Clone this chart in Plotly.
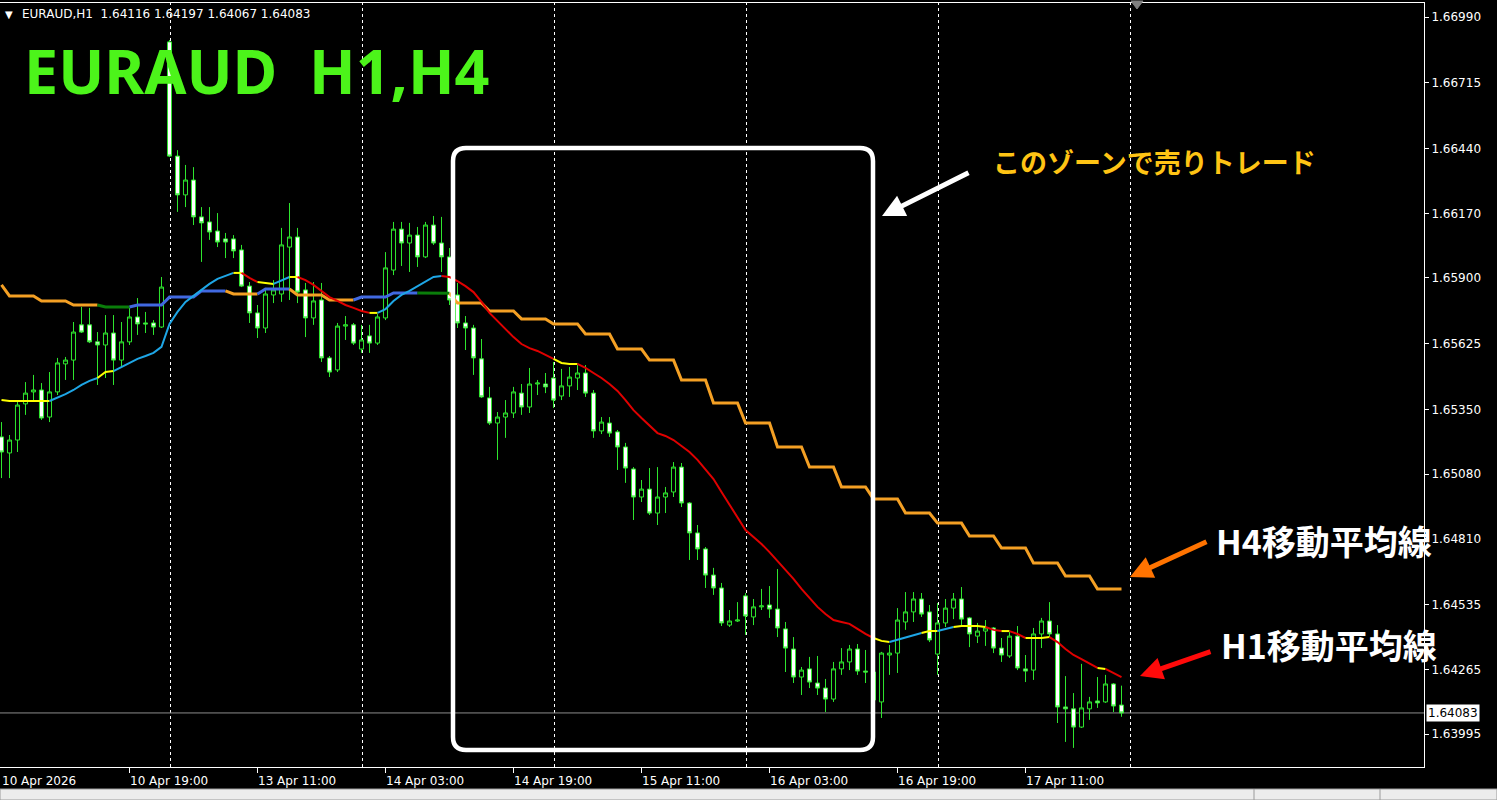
import pandas as pd
import plotly.graph_objects as go

# ---------------- data ----------------
header_text = "EURAUD,H1  1.64116 1.64197 1.64067 1.64083"
title_text = "EURAUD\u00a0\u00a0H1,H4"
zone_text = "このゾーンで売りトレード"
h4_text = "H4移動平均線"
h1_text = "H1移動平均線"

first_bar = "2026-04-10 03:00"
last_bar = "2026-04-17 23:00"

opens = [1.65236, 1.65169, 1.65223, 1.65374, 1.65424, 1.65432, 1.65319, 1.65424, 1.65541, 1.65557,
         1.65704, 1.65704, 1.65633, 1.65620, 1.65670, 1.65557, 1.65633, 1.65737, 1.65712, 1.65712,
         1.65695, 1.66886, 1.66409, 1.66247, 1.66309, 1.66155, 1.66134, 1.66096, 1.66063, 1.66063,
         1.66017, 1.65866, 1.65754, 1.65691, 1.65829, 1.65833, 1.66029, 1.66071, 1.65850, 1.65733,
         1.65808, 1.65566, 1.65516, 1.65699, 1.65704, 1.65603, 1.65658, 1.65628, 1.65733, 1.65933,
         1.66104, 1.66046, 1.66079, 1.65988, 1.66121, 1.66046, 1.65988, 1.65829, 1.65712, 1.65691,
         1.65562, 1.65399, 1.65294, 1.65319, 1.65336, 1.65419, 1.65361, 1.65457, 1.65457, 1.65482,
         1.65407, 1.65449, 1.65482, 1.65503, 1.65419, 1.65261, 1.65294, 1.65257, 1.65194, 1.65102,
         1.64985, 1.65018, 1.64918, 1.64985, 1.65006, 1.65110, 1.64960, 1.64835, 1.64768, 1.64659,
         1.64605, 1.64450, 1.64467, 1.64572, 1.64484, 1.64526, 1.64534, 1.64517, 1.64434, 1.64350,
         1.64233, 1.64267, 1.64208, 1.64187, 1.64141, 1.64267, 1.64296, 1.64350, 1.64258, 1.64254,
         1.64129, 1.64325, 1.64333, 1.64463, 1.64505, 1.64559, 1.64505, 1.64329, 1.64459, 1.64521,
         1.64559, 1.64480, 1.64404, 1.64425, 1.64438, 1.64354, 1.64321, 1.64404, 1.64267, 1.64262,
         1.64413, 1.64467, 1.64413, 1.64108, 1.64100, 1.64024, 1.64100, 1.64133, 1.64129, 1.64204,
         1.64116]
highs = [1.65298, 1.65244, 1.65382, 1.65465, 1.65495, 1.65461, 1.65507, 1.65566, 1.65570, 1.65716,
         1.65779, 1.65775, 1.65674, 1.65745, 1.65745, 1.65716, 1.65775, 1.65816, 1.65758, 1.65724,
         1.65904, 1.66894, 1.66434, 1.66372, 1.66363, 1.66196, 1.66196, 1.66171, 1.66088, 1.66079,
         1.66038, 1.65883, 1.65787, 1.65850, 1.65891, 1.66109, 1.66213, 1.66109, 1.65879, 1.65883,
         1.65879, 1.65574, 1.65712, 1.65741, 1.65712, 1.65704, 1.65704, 1.65749, 1.66008, 1.66134,
         1.66134, 1.66130, 1.66113, 1.66134, 1.66159, 1.66155, 1.66025, 1.65879, 1.65741, 1.65704,
         1.65645, 1.65445, 1.65340, 1.65390, 1.65445, 1.65457, 1.65524, 1.65474, 1.65503, 1.65549,
         1.65520, 1.65528, 1.65536, 1.65536, 1.65432, 1.65319, 1.65319, 1.65265, 1.65211, 1.65110,
         1.65056, 1.65106, 1.65110, 1.65027, 1.65131, 1.65127, 1.64964, 1.64868, 1.64776, 1.64689,
         1.64626, 1.64513, 1.64546, 1.64584, 1.64559, 1.64601, 1.64613, 1.64684, 1.64463, 1.64400,
         1.64275, 1.64317, 1.64321, 1.64225, 1.64296, 1.64354, 1.64367, 1.64371, 1.64346, 1.64271,
         1.64338, 1.64367, 1.64521, 1.64588, 1.64588, 1.64584, 1.64534, 1.64542, 1.64559, 1.64584,
         1.64609, 1.64484, 1.64459, 1.64471, 1.64442, 1.64396, 1.64421, 1.64446, 1.64325, 1.64438,
         1.64480, 1.64546, 1.64450, 1.64237, 1.64166, 1.64288, 1.64150, 1.64233, 1.64242, 1.64208,
         1.64197]
lows = [1.65064, 1.65064, 1.65173, 1.65328, 1.65390, 1.65307, 1.65298, 1.65411, 1.65474, 1.65474,
        1.65670, 1.65628, 1.65453, 1.65482, 1.65453, 1.65528, 1.65620, 1.65662, 1.65670, 1.65662,
        1.65691, 1.66405, 1.66176, 1.66196, 1.66121, 1.65967, 1.66059, 1.66029, 1.65983, 1.65983,
        1.65862, 1.65712, 1.65649, 1.65670, 1.65795, 1.65800, 1.65808, 1.65795, 1.65653, 1.65704,
        1.65549, 1.65486, 1.65507, 1.65641, 1.65620, 1.65587, 1.65587, 1.65620, 1.65724, 1.65912,
        1.65950, 1.65925, 1.65946, 1.65983, 1.66038, 1.65925, 1.65787, 1.65691, 1.65599, 1.65495,
        1.65399, 1.65286, 1.65140, 1.65232, 1.65315, 1.65328, 1.65336, 1.65411, 1.65419, 1.65357,
        1.65390, 1.65403, 1.65432, 1.65403, 1.65232, 1.65248, 1.65236, 1.65098, 1.65044, 1.64889,
        1.64964, 1.64910, 1.64868, 1.64918, 1.64985, 1.64943, 1.64722, 1.64722, 1.64605, 1.64576,
        1.64446, 1.64442, 1.64463, 1.64409, 1.64450, 1.64513, 1.64480, 1.64400, 1.64254, 1.64208,
        1.64158, 1.64187, 1.64158, 1.64087, 1.64129, 1.64242, 1.64262, 1.64242, 1.64208, 1.64087,
        1.64062, 1.64242, 1.64250, 1.64430, 1.64463, 1.64484, 1.64379, 1.64242, 1.64442, 1.64475,
        1.64442, 1.64358, 1.64375, 1.64363, 1.64333, 1.64296, 1.64313, 1.64262, 1.64212, 1.64221,
        1.64354, 1.64400, 1.64041, 1.63962, 1.63937, 1.64020, 1.64054, 1.64104, 1.64125, 1.64087,
        1.64067]
closes = [1.65173, 1.65223, 1.65369, 1.65419, 1.65432, 1.65315, 1.65424, 1.65545, 1.65557, 1.65674,
          1.65674, 1.65633, 1.65620, 1.65670, 1.65557, 1.65633, 1.65737, 1.65708, 1.65708, 1.65695,
          1.65862, 1.66409, 1.66247, 1.66309, 1.66155, 1.66130, 1.66092, 1.66050, 1.66050, 1.66013,
          1.65866, 1.65754, 1.65691, 1.65833, 1.65850, 1.66038, 1.66071, 1.65841, 1.65733, 1.65804,
          1.65566, 1.65507, 1.65699, 1.65704, 1.65628, 1.65641, 1.65628, 1.65737, 1.65942, 1.66104,
          1.66046, 1.66079, 1.65988, 1.66121, 1.66046, 1.65988, 1.65808, 1.65712, 1.65691, 1.65566,
          1.65403, 1.65294, 1.65319, 1.65336, 1.65424, 1.65361, 1.65457, 1.65461, 1.65445, 1.65390,
          1.65449, 1.65486, 1.65503, 1.65419, 1.65261, 1.65298, 1.65252, 1.65194, 1.65106, 1.64985,
          1.65018, 1.64918, 1.64985, 1.65002, 1.65110, 1.64960, 1.64835, 1.64768, 1.64659, 1.64605,
          1.64459, 1.64467, 1.64471, 1.64488, 1.64526, 1.64530, 1.64517, 1.64438, 1.64354, 1.64233,
          1.64262, 1.64212, 1.64187, 1.64141, 1.64267, 1.64296, 1.64350, 1.64258, 1.64254, 1.64137,
          1.64333, 1.64333, 1.64471, 1.64505, 1.64559, 1.64496, 1.64388, 1.64459, 1.64521, 1.64559,
          1.64475, 1.64413, 1.64425, 1.64438, 1.64354, 1.64325, 1.64404, 1.64271, 1.64258, 1.64413,
          1.64467, 1.64413, 1.64108, 1.64100, 1.64024, 1.64104, 1.64129, 1.64125, 1.64204, 1.64112,
          1.64083]

# H1 moving average, one value per H1 bar
ma_h1 = [1.65390, 1.65386, 1.65386, 1.65386, 1.65386, 1.65386, 1.65386, 1.65399, 1.65415, 1.65432,
         1.65453, 1.65470, 1.65482, 1.65507, 1.65511, 1.65528, 1.65545, 1.65562, 1.65574, 1.65587,
         1.65612, 1.65708, 1.65758, 1.65800, 1.65825, 1.65850, 1.65875, 1.65896, 1.65908, 1.65921,
         1.65921, 1.65900, 1.65883, 1.65879, 1.65875, 1.65891, 1.65904, 1.65904, 1.65891, 1.65871,
         1.65846, 1.65820, 1.65804, 1.65787, 1.65775, 1.65762, 1.65754, 1.65754, 1.65770, 1.65804,
         1.65829, 1.65846, 1.65866, 1.65887, 1.65904, 1.65908, 1.65904, 1.65887, 1.65866, 1.65841,
         1.65800, 1.65754, 1.65720, 1.65683, 1.65653, 1.65624, 1.65607, 1.65595, 1.65578, 1.65562,
         1.65545, 1.65541, 1.65541, 1.65524, 1.65503, 1.65482, 1.65457, 1.65428, 1.65390, 1.65348,
         1.65315, 1.65282, 1.65252, 1.65240, 1.65223, 1.65198, 1.65173, 1.65140, 1.65102, 1.65060,
         1.65006, 1.64952, 1.64902, 1.64847, 1.64818, 1.64789, 1.64755, 1.64718, 1.64680, 1.64643,
         1.64601, 1.64563, 1.64526, 1.64496, 1.64471, 1.64463, 1.64455, 1.64434, 1.64413, 1.64396,
         1.64384, 1.64379, 1.64388, 1.64400, 1.64409, 1.64417, 1.64425, 1.64425, 1.64434, 1.64442,
         1.64446, 1.64446, 1.64446, 1.64442, 1.64430, 1.64425, 1.64425, 1.64413, 1.64396, 1.64396,
         1.64396, 1.64400, 1.64379, 1.64350, 1.64325, 1.64308, 1.64288, 1.64271, 1.64267, 1.64250,
         1.64233]
# colour state of the H1 MA (r = falling, c = rising, y = flat) as runs of bars
ma_h1_runs = [("r", 1), ("y", 6), ("c", 6), ("y", 2), ("c", 15), ("y", 1), ("r", 2), ("y", 2),
              ("c", 2), ("y", 1), ("r", 9), ("y", 1), ("c", 8), ("r", 14), ("y", 3), ("r", 37),
              ("y", 2), ("c", 4), ("y", 2), ("c", 2), ("y", 4), ("r", 2), ("y", 1), ("r", 2),
              ("y", 3), ("r", 6), ("y", 1), ("r", 2)]

# H4 moving average, one value per H4 bar
ma_h4 = [1.65871, 1.65825, 1.65804, 1.65787, 1.65779, 1.65787, 1.65820, 1.65846, 1.65833, 1.65854,
         1.65829, 1.65808, 1.65820, 1.65837, 1.65836, 1.65795, 1.65762, 1.65729, 1.65708, 1.65666,
         1.65603, 1.65557, 1.65474, 1.65378, 1.65294, 1.65194, 1.65110, 1.65027, 1.64977, 1.64918,
         1.64876, 1.64822, 1.64772, 1.64709, 1.64655, 1.64601]
ma_h4_state = ["d", "d", "d", "d", "f", "u", "u", "u", "d", "u", "d", "d", "u", "u", "f"] + ["d"] * 21

price_ticks = [1.66990, 1.66715, 1.66440, 1.66170, 1.65900, 1.65625, 1.65350, 1.65080,
               1.64810, 1.64535, 1.64265, 1.63995]
time_labels = ["10 Apr 2026", "10 Apr 19:00", "13 Apr 11:00", "14 Apr 03:00", "14 Apr 19:00",
               "15 Apr 11:00", "16 Apr 03:00", "16 Apr 19:00", "17 Apr 11:00"]
last_price = 1.64083

# ---------------- styling ----------------
W, H = 1497, 800
ML, MR, MT, MB = 0, 73, 3, 33
PW, PH = W - ML - MR, H - MT - MB
Y_RANGE = [1.638572, 1.670485]
X_RANGE = [-0.1875, 177.8125]

CANDLE_GREEN = "#2EE62E"
H1_COLORS = {"r": "#E00000", "c": "#1EA6E6", "y": "#FFFF00"}
H4_COLORS = {"d": "#F4A024", "u": "#4169E1", "f": "#0A7D0A"}
AXIS_FONT = dict(family="DejaVu Sans", size=12, color="#FFFFFF")


def px_x(px):
    return (px - ML) / PW


def px_y(py):
    return 1 - (py - MT) / PH


# ---------------- derived series ----------------
times = pd.date_range(first_bar, last_bar, freq="h")
times = times[times.dayofweek < 5]
bars = list(range(len(times)))

blocks = list(times.floor("4h"))
uniq_blocks = list(dict.fromkeys(blocks))
block_idx = [uniq_blocks.index(b) for b in blocks]
h4_line = [ma_h4[k] for k in block_idx]
h4_states = [ma_h4_state[k] for k in block_idx]

h1_states = []
for st, n in ma_h1_runs:
    h1_states += [st] * n


def label_bar(lbl):
    for i, t in enumerate(times):
        if t.strftime("%d %b %H:%M") == lbl:
            return i
        if i == 0 and t.strftime("%d %b %Y") == lbl:
            return i
    return None


label_bars = [label_bar(s) for s in time_labels]
separators = [i for i, t in enumerate(times) if t.hour == 0] + [len(times)]


def colored_line(xs, ys, states, colors, width):
    traces = []
    start = 0
    n = len(xs)
    for i in range(1, n + 1):
        if i == n or states[i] != states[start]:
            a = max(start - 1, 0)
            traces.append(go.Scatter(
                x=xs[a:i], y=ys[a:i], mode="lines",
                line=dict(color=colors[states[start]], width=width),
                hoverinfo="skip", showlegend=False))
            start = i
    return traces


fig = go.Figure()
for tr in colored_line(bars, h4_line, h4_states, H4_COLORS, 3):
    fig.add_trace(tr)
for tr in colored_line(bars, ma_h1, h1_states, H1_COLORS, 2):
    fig.add_trace(tr)

fig.add_trace(go.Candlestick(
    x=bars, open=opens, high=highs, low=lows, close=closes,
    increasing=dict(line=dict(color=CANDLE_GREEN, width=1), fillcolor="#000000"),
    decreasing=dict(line=dict(color=CANDLE_GREEN, width=1), fillcolor="#FFFFFF"),
    whiskerwidth=0, showlegend=False, hoverinfo="skip"))

shapes = []
# day separators
for b in separators:
    shapes.append(dict(type="line", xref="x", yref="paper", x0=b + 0.125, x1=b + 0.125, y0=0, y1=1,
                       line=dict(color="#FFFFFF", width=1, dash="3px,3px"), layer="below"))
# current price line
shapes.append(dict(type="line", xref="paper", yref="y", x0=0, x1=1, y0=last_price, y1=last_price,
                   line=dict(color="#8C8C8C", width=1), layer="below"))

# rounded white zone rectangle
rx0, rx1, ry0, ry1, rr = 453, 873, 148, 750, 13
def P(x, y):
    return f"{px_x(x):.6f},{px_y(y):.6f}"
zone_path = (f"M {P(rx0 + rr, ry0)} L {P(rx1 - rr, ry0)} Q {P(rx1, ry0)} {P(rx1, ry0 + rr)} "
             f"L {P(rx1, ry1 - rr)} Q {P(rx1, ry1)} {P(rx1 - rr, ry1)} "
             f"L {P(rx0 + rr, ry1)} Q {P(rx0, ry1)} {P(rx0, ry1 - rr)} "
             f"L {P(rx0, ry0 + rr)} Q {P(rx0, ry0)} {P(rx0 + rr, ry0)} Z")
shapes.append(dict(type="path", xref="paper", yref="paper", path=zone_path,
                   line=dict(color="#FFFFFF", width=4.5), fillcolor="rgba(0,0,0,0)", layer="above"))
# shift marker triangle at top
shapes.append(dict(type="path", xref="paper", yref="paper",
                   path=f"M {P(1131, 1)} L {P(1143, 1)} L {P(1137, 9)} Z",
                   fillcolor="#7F7F7F", line=dict(color="#7F7F7F", width=1), layer="above"))
# bottom status strip
shapes.append(dict(type="rect", xref="paper", yref="paper", x0=px_x(0), x1=px_x(1497),
                   y0=px_y(800), y1=px_y(789), fillcolor="#ECECEC",
                   line=dict(color="#9A9A9A", width=1), layer="above"))
shapes.append(dict(type="line", xref="paper", yref="paper", x0=px_x(1254), x1=px_x(1254),
                   y0=px_y(800), y1=px_y(789), line=dict(color="#9A9A9A", width=1)))
shapes.append(dict(type="line", xref="paper", yref="paper", x0=px_x(1380), x1=px_x(1380),
                   y0=px_y(800), y1=px_y(789), line=dict(color="#9A9A9A", width=1)))

ann = []
ann.append(dict(text="▼", x=px_x(3), y=px_y(14), xref="paper", yref="paper", xanchor="left",
                yanchor="middle", showarrow=False, font=dict(family="DejaVu Sans", size=10, color="#FFFFFF")))
ann.append(dict(text=header_text.replace("  ", "\u00a0\u00a0"), x=px_x(20), y=px_y(14), xref="paper",
                yref="paper", xanchor="left", yanchor="middle", showarrow=False, font=AXIS_FONT))
ann.append(dict(text=f"<b>{title_text}</b>", x=px_x(22), y=px_y(70), xref="paper", yref="paper",
                xanchor="left", yanchor="middle", showarrow=False,
                font=dict(family="Noto Sans", size=61, color="#4CF41A")))
ann.append(dict(text=f"<b>{zone_text}</b>", x=px_x(1154), y=px_y(161), xref="paper", yref="paper",
                xanchor="center", yanchor="middle", showarrow=False,
                font=dict(family="Noto Sans CJK JP", size=27, color="#FFC414")))
ann.append(dict(text=f"<b>{h4_text}</b>", x=px_x(1214), y=px_y(540), xref="paper", yref="paper",
                xanchor="left", yanchor="middle", showarrow=False,
                font=dict(family="Noto Sans CJK JP", size=34, color="#FFFFFF")))
ann.append(dict(text=f"<b>{h1_text}</b>", x=px_x(1219), y=px_y(644), xref="paper", yref="paper",
                xanchor="left", yanchor="middle", showarrow=False,
                font=dict(family="Noto Sans CJK JP", size=34, color="#FFFFFF")))
# arrows (tip, tail offset in px)
for (tx, ty, ax, ay, col) in [(882, 216, 88, -44, "#FFFFFF"),
                              (1130, 577, 78, -36, "#FF7300"),
                              (1140, 676, 72, -25, "#FF0A0A")]:
    ann.append(dict(text="", x=px_x(tx), y=px_y(ty), xref="paper", yref="paper",
                    ax=ax, ay=ay, showarrow=True, arrowhead=2, arrowsize=0.9, arrowwidth=5,
                    arrowcolor=col, standoff=0, startstandoff=0))
# time labels (left aligned at their tick, like the terminal)
for b, s in zip(label_bars, time_labels):
    ann.append(dict(text=s, x=b, y=px_y(781), xref="x", yref="paper", xanchor="left",
                    yanchor="middle", showarrow=False, xshift=-2, font=AXIS_FONT))
# current price tag
ann.append(dict(text=f"{last_price:.5f}", x=px_x(1426), y=last_price, xref="paper", yref="y",
                xanchor="left", yanchor="middle", showarrow=False, bgcolor="#FFFFFF",
                borderpad=1, font=dict(family="DejaVu Sans", size=12, color="#000000")))

fig.update_layout(
    width=W, height=H,
    margin=dict(l=ML, r=MR, t=MT, b=MB),
    paper_bgcolor="#000000", plot_bgcolor="#000000",
    showlegend=False, boxgap=0.3, boxgroupgap=0.28,
    shapes=shapes, annotations=ann,
    xaxis=dict(range=X_RANGE, rangeslider=dict(visible=False), showgrid=False, zeroline=False,
               showline=True, linecolor="#FFFFFF", linewidth=1, mirror=True,
               tickvals=[b for b in label_bars if b > 0], ticks="outside", ticklen=5,
               tickcolor="#FFFFFF", showticklabels=False, automargin=False),
    yaxis=dict(range=Y_RANGE, side="right", showgrid=False, zeroline=False,
               showline=True, linecolor="#FFFFFF", linewidth=1, mirror=True,
               tickvals=price_ticks, ticktext=[f"{v:.5f}" for v in price_ticks],
               ticks="outside", ticklen=4, tickcolor="#FFFFFF", tickfont=AXIS_FONT,
               automargin=False),
)

fig.write_html("out.html", config={"displayModeBar": False},
               post_script="document.body.style.margin='0';document.body.style.background='#000';")
